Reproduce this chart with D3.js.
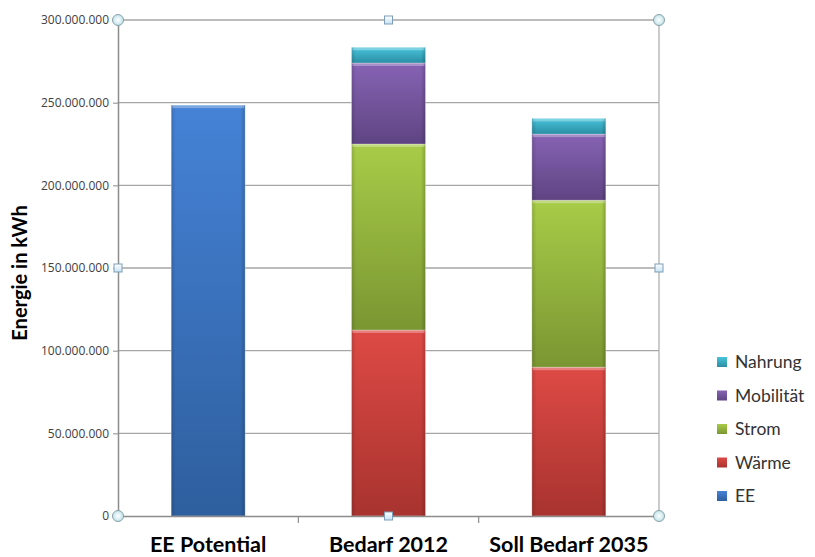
<!DOCTYPE html>
<html><head><meta charset="utf-8">
<script src="https://cdn.jsdelivr.net/npm/d3@7"></script>
<style>body{margin:0;background:#fff;font-family:Lato,"Open Sans",sans-serif}</style>
</head><body><svg id="c" width="815" height="557"></svg>
<script>
const categories = ["EE Potential", "Bedarf 2012", "Soll Bedarf 2035"];
const seriesNames = ["EE", "Wärme", "Strom", "Mobilität", "Nahrung"];
const EE        = [248500000, 0, 0];
const Waerme    = [0, 112500000, 90000000];
const Strom     = [0, 112500000, 101000000];
const Mobilitaet= [0, 49000000, 40000000];
const Nahrung   = [0, 9500000, 9500000];
const yTicks = [0, 50000000, 100000000, 150000000, 200000000, 250000000, 300000000];
const colors = {"EE":["#4582d6","#2e5f9e"],"Wärme":["#de4a45","#a8332f"],"Strom":["#a8cc48","#7a9632"],"Mobilität":["#8663b4","#5f4482"],"Nahrung":["#48c4dc","#2a8ea3"]};

const seriesVals = {"EE":EE,"Wärme":Waerme,"Strom":Strom,"Mobilität":Mobilitaet,"Nahrung":Nahrung};
const svg = d3.select("#c");
const L=118,R=659,T=20,B=516;
const x = d3.scaleBand().domain(categories).range([L,R]).paddingInner(0.59).paddingOuter(0.295);
const xb = d3.scaleBand().domain(categories).range([L,R]);
const y = d3.scaleLinear().domain([0,300000000]).range([B,T]);
const fmt = v => d3.format(",")(v).replace(/,/g,".");

const defs = svg.append("defs");
seriesNames.forEach((s,i)=>{
  const g = defs.append("linearGradient").attr("id","g"+i).attr("x1",0).attr("y1",0).attr("x2",0).attr("y2",1);
  g.append("stop").attr("offset","0%").attr("stop-color",colors[s][0]);
  g.append("stop").attr("offset","100%").attr("stop-color",colors[s][1]);
  const h = defs.append("linearGradient").attr("id","h"+i).attr("x1",0).attr("y1",0).attr("x2",1).attr("y2",0);
  h.append("stop").attr("offset","0%").attr("stop-color","#000").attr("stop-opacity",0.15);
  h.append("stop").attr("offset","6%").attr("stop-color","#000").attr("stop-opacity",0);
  h.append("stop").attr("offset","94%").attr("stop-color","#000").attr("stop-opacity",0);
  h.append("stop").attr("offset","100%").attr("stop-color","#000").attr("stop-opacity",0.2);
});
const hg = defs.append("radialGradient").attr("id","hc");
hg.append("stop").attr("offset","0%").attr("stop-color","#ffffff");
hg.append("stop").attr("offset","100%").attr("stop-color","#bfe3ea");
const sg = defs.append("linearGradient").attr("id","sq").attr("x1",0).attr("y1",0).attr("x2",0).attr("y2",1);
sg.append("stop").attr("offset","0%").attr("stop-color","#ffffff");
sg.append("stop").attr("offset","100%").attr("stop-color","#c6e2f2");

// gridlines
svg.append("g").selectAll("line").data(yTicks.filter(d=>d>0)).join("line")
  .attr("x1",L).attr("x2",R).attr("y1",d=>y(d)).attr("y2",d=>y(d))
  .attr("stroke","#a6a6a6").attr("stroke-width",1.3);
// right border
svg.append("line").attr("x1",R).attr("x2",R).attr("y1",T).attr("y2",B).attr("stroke","#b0b0b0").attr("stroke-width",1.3);

// y axis
const ya = svg.append("g").attr("transform",`translate(${L},0)`)
  .call(d3.axisLeft(y).tickValues(yTicks).tickFormat(fmt).tickSize(5).tickPadding(4));
ya.select(".domain").attr("stroke","#8c8c8c").attr("stroke-width",1.5);
ya.selectAll(".tick line").attr("stroke","#8c8c8c");
ya.selectAll("text").attr("font-family","'Open Sans',sans-serif").attr("font-size",12).attr("fill","#404040");

// stacked bars
const rows = categories.map((c,i)=>{const o={cat:c}; seriesNames.forEach(s=>o[s]=seriesVals[s][i]); return o;});
const stack = d3.stack().keys(seriesNames)(rows);
stack.forEach((layer,i)=>{
  const g = svg.append("g");
  const segs = layer.filter(d=>d[1]-d[0]>0);
  g.selectAll("rect.m").data(segs).join("rect").attr("class","m")
    .attr("x",d=>x(d.data.cat)).attr("width",x.bandwidth())
    .attr("y",d=>y(d[1])).attr("height",d=>y(d[0])-y(d[1]))
    .attr("fill",`url(#g${i})`);
  g.selectAll("rect.s").data(segs).join("rect").attr("class","s")
    .attr("x",d=>x(d.data.cat)).attr("width",x.bandwidth())
    .attr("y",d=>y(d[1])).attr("height",d=>y(d[0])-y(d[1]))
    .attr("fill",`url(#h${i})`);
  g.selectAll("rect.t").data(segs).join("rect").attr("class","t")
    .attr("x",d=>x(d.data.cat)+1).attr("width",x.bandwidth()-2)
    .attr("y",d=>y(d[1])).attr("height",3)
    .attr("fill","#fff").attr("opacity",0.3);
  g.selectAll("rect.e").data(segs).join("rect").attr("class","e")
    .attr("x",d=>x(d.data.cat)).attr("width",x.bandwidth())
    .attr("y",d=>y(d[1])).attr("height",d=>y(d[0])-y(d[1]))
    .attr("fill","none").attr("stroke","#fff").attr("stroke-opacity",0.35).attr("stroke-width",0.8);
});

// x axis
const xa = svg.append("g").attr("transform",`translate(0,${B})`)
  .call(d3.axisBottom(xb).tickSize(0).tickPadding(21));
xa.select(".domain").attr("stroke","#8c8c8c").attr("stroke-width",1.5);
xa.selectAll("text").attr("font-family","Lato,'Open Sans',sans-serif").attr("font-size",21.5).attr("font-weight","bold").attr("fill","#000");
svg.append("g").selectAll("line").data(categories.slice(1)).join("line")
  .attr("x1",d=>xb(d)).attr("x2",d=>xb(d)).attr("y1",B).attr("y2",B+7).attr("stroke","#8c8c8c").attr("stroke-width",1.2);

// y label
svg.append("text").attr("transform",`translate(27,${(T+B)/2+5}) rotate(-90)`)
  .attr("text-anchor","middle").attr("font-family","Lato,'Open Sans',sans-serif").attr("font-size",20).attr("font-weight","bold").text("Energie in kWh");

// selection handles
const circ = [[L,T],[R,T],[L,B],[R,B]];
svg.append("g").selectAll("circle").data(circ).join("circle")
  .attr("cx",d=>d[0]).attr("cy",d=>d[1]).attr("r",5.5).attr("fill","url(#hc)").attr("stroke","#8aa0a8").attr("stroke-width",1);
const sq = [[(L+R)/2,T],[(L+R)/2,B],[L,(T+B)/2],[R,(T+B)/2]];
svg.append("g").selectAll("rect").data(sq).join("rect")
  .attr("x",d=>d[0]-4).attr("y",d=>d[1]-4).attr("width",8).attr("height",8).attr("fill","url(#sq)").attr("stroke","#7e9db8").attr("stroke-width",1);

// legend
const leg = svg.append("g");
const legOrder = seriesNames.slice().reverse();
legOrder.forEach((s,i)=>{
  const yy = 362 + i*33.5;
  const idx = seriesNames.indexOf(s);
  leg.append("rect").attr("x",717).attr("y",yy-5).attr("width",10).attr("height",10).attr("fill",`url(#g${idx})`);
  leg.append("text").attr("x",735).attr("y",yy).attr("dy","0.35em").attr("font-family","Lato,'Open Sans',sans-serif").attr("font-size",17.5).attr("fill","#333").text(s);
});
</script></body></html>
